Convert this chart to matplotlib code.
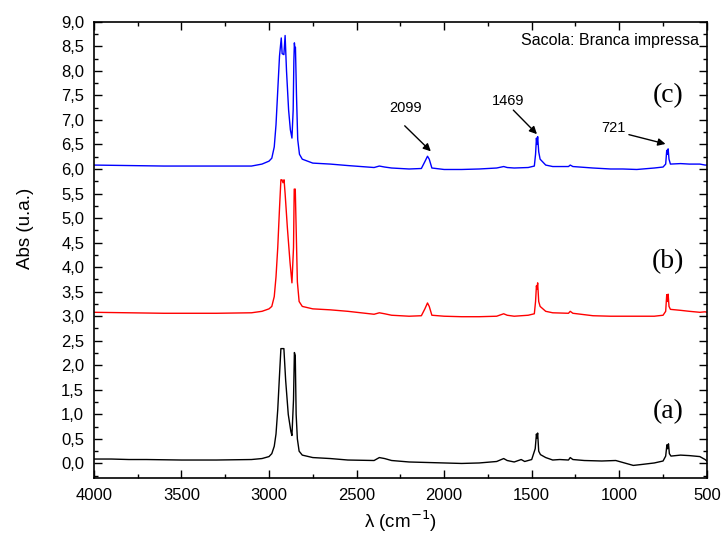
import matplotlib
matplotlib.use('Agg')
import matplotlib.pyplot as plt
from matplotlib.ticker import MultipleLocator, FuncFormatter

# espectro (a) - preto
wn_a = [4000, 3900, 3800, 3700, 3500, 3300, 3100, 3040, 3000, 2984, 2970, 2960, 2950, 2940,
        2932, 2915, 2905, 2890, 2875, 2869, 2860, 2855, 2850, 2845, 2838, 2828, 2810, 2750,
        2650, 2550, 2400, 2370, 2340, 2300, 2200, 2100, 2000, 1900, 1800, 1700, 1660, 1640,
        1600, 1560, 1540, 1500, 1480, 1473, 1470, 1466, 1460, 1450, 1420, 1380, 1340, 1290,
        1280, 1265, 1200, 1100, 1020, 960, 920, 870, 800, 750, 735, 728, 724, 719, 714, 705,
        650, 600, 540, 510, 500]
abs_a = [0.09, 0.09, 0.08, 0.08, 0.07, 0.07, 0.08, 0.10, 0.14, 0.20, 0.35, 0.60, 1.10, 1.80,
         2.34, 2.34, 1.70, 1.00, 0.65, 0.57, 1.30, 2.26, 2.20, 1.00, 0.50, 0.25, 0.17, 0.12,
         0.10, 0.07, 0.06, 0.12, 0.10, 0.06, 0.03, 0.02, 0.01, 0.00, 0.01, 0.04, 0.10, 0.06,
         0.03, 0.08, 0.04, 0.08, 0.30, 0.60, 0.52, 0.62, 0.25, 0.18, 0.12, 0.07, 0.08, 0.07,
         0.12, 0.08, 0.06, 0.05, 0.06, 0.00, -0.04, -0.02, 0.01, 0.05, 0.15, 0.38, 0.30, 0.40,
         0.20, 0.15, 0.17, 0.16, 0.14, 0.08, 0.05]

# espectro (b) - vermelho
wn_b = [4000, 3800, 3600, 3300, 3100, 3040, 3000, 2984, 2970, 2960, 2950, 2940, 2932, 2926,
        2920, 2914, 2908, 2895, 2880, 2869, 2860, 2856, 2850, 2845, 2838, 2828, 2810, 2750,
        2650, 2550, 2400, 2370, 2340, 2300, 2200, 2130, 2110, 2095, 2085, 2070, 2000, 1900,
        1800, 1700, 1660, 1640, 1600, 1520, 1485, 1478, 1473, 1470, 1466, 1460, 1452, 1420,
        1380, 1290, 1280, 1265, 1150, 1050, 980, 900, 800, 750, 735, 729, 725, 721, 716, 708,
        650, 600, 540, 510, 500]
abs_b = [3.08, 3.07, 3.06, 3.06, 3.07, 3.10, 3.15, 3.20, 3.40, 3.80, 4.40, 5.20, 5.78, 5.78,
         5.72, 5.78, 5.50, 4.80, 4.10, 3.68, 4.40, 5.59, 5.59, 4.80, 3.70, 3.30, 3.20, 3.15,
         3.13, 3.10, 3.04, 3.07, 3.05, 3.02, 3.00, 3.01, 3.15, 3.27, 3.20, 3.02, 3.00, 2.99,
         2.99, 3.00, 3.05, 3.02, 3.00, 3.02, 3.05, 3.30, 3.62, 3.55, 3.68, 3.30, 3.20, 3.10,
         3.07, 3.06, 3.10, 3.06, 3.01, 3.00, 3.00, 3.00, 3.00, 3.02, 3.10, 3.44, 3.30, 3.45,
         3.20, 3.14, 3.12, 3.10, 3.08, 3.09, 3.08]

# espectro (c) - azul
wn_c = [4000, 3800, 3600, 3300, 3100, 3040, 3000, 2984, 2970, 2960, 2950, 2940, 2930, 2925,
        2915, 2908, 2900, 2888, 2878, 2869, 2862, 2858, 2855, 2852, 2849, 2843, 2836, 2826,
        2810, 2750, 2650, 2550, 2400, 2370, 2340, 2300, 2200, 2130, 2110, 2095, 2085, 2070,
        2000, 1900, 1800, 1700, 1660, 1640, 1600, 1520, 1485, 1478, 1473, 1470, 1466, 1460,
        1452, 1420, 1380, 1290, 1280, 1265, 1150, 1050, 980, 900, 800, 750, 735, 729, 725,
        721, 716, 708, 650, 600, 540, 510, 500]
abs_c = [6.08, 6.07, 6.06, 6.06, 6.06, 6.10, 6.16, 6.22, 6.45, 6.90, 7.60, 8.30, 8.67, 8.35,
         8.33, 8.72, 8.00, 7.20, 6.80, 6.63, 7.20, 8.20, 8.57, 8.45, 8.48, 7.50, 6.60, 6.30,
         6.20, 6.12, 6.10, 6.07, 6.03, 6.06, 6.04, 6.02, 6.00, 6.01, 6.15, 6.26, 6.20, 6.02,
         5.99, 5.99, 6.00, 6.02, 6.05, 6.03, 6.02, 6.03, 6.06, 6.30, 6.63, 6.50, 6.66, 6.35,
         6.20, 6.08, 6.05, 6.05, 6.08, 6.05, 6.02, 6.00, 6.00, 5.99, 6.02, 6.04, 6.10, 6.38,
         6.30, 6.41, 6.20, 6.10, 6.11, 6.10, 6.10, 6.08, 6.08]

# anotacoes: texto, posicao do texto, inicio e ponta da seta
ann_labels = ['2099', '1469', '721']
ann_text = [(2218, 7.25), (1636, 7.39), (1036, 6.84)]
ann_tail = [(2225, 6.88), (1605, 7.20), (945, 6.70)]
ann_tip = [(2076, 6.36), (1470, 6.71), (736, 6.51)]

plt.rcParams['font.family'] = ['Liberation Sans', 'DejaVu Sans']

fig = plt.figure(figsize=(7.22, 5.44), dpi=100)
ax = fig.add_axes([0.130, 0.121, 0.849, 0.839])

ax.plot(wn_a, abs_a, color='black', lw=1.0)
ax.plot(wn_b, abs_b, color='#ff0000', lw=1.0)
ax.plot(wn_c, abs_c, color='#0000ff', lw=1.0)

ax.set_xlim(4000, 500)
ax.set_ylim(-0.3, 9.0)
ax.xaxis.set_major_locator(MultipleLocator(500))
ax.xaxis.set_minor_locator(MultipleLocator(250))
ax.yaxis.set_major_locator(MultipleLocator(0.5))
ax.yaxis.set_minor_locator(MultipleLocator(0.25))
ax.yaxis.set_major_formatter(FuncFormatter(lambda v, p: f'{v:.1f}'.replace('.', ',')))
ax.tick_params(which='both', direction='in', top=True, right=True, labelsize=12, pad=7)
ax.tick_params(which='major', length=6, width=1)
ax.tick_params(which='minor', length=3, width=1)
for s in ax.spines.values():
    s.set_linewidth(1.2)

ax.set_xlabel('λ (cm$^{-1}$)', fontsize=13.5)
ax.set_ylabel('Abs (u.a.)', fontsize=13.5)
ax.yaxis.set_label_coords(-0.098, 0.548)

for lab, xyt, tail, tip in zip(ann_labels, ann_text, ann_tail, ann_tip):
    ax.text(xyt[0], xyt[1], lab, fontsize=10.5, ha='center', va='center')
    ax.annotate('', xy=tip, xytext=tail,
                arrowprops=dict(arrowstyle='-|>', color='black', lw=1, shrinkA=0, shrinkB=0,
                                mutation_scale=11))

ax.text(720, 7.5, '(c)', family='Liberation Serif', fontsize=20, ha='center', va='center')
ax.text(720, 4.11, '(b)', family='Liberation Serif', fontsize=20, ha='center', va='center')
ax.text(720, 1.06, '(a)', family='Liberation Serif', fontsize=20, ha='center', va='center')
ax.text(0.987, 0.975, 'Sacola: Branca impressa', transform=ax.transAxes, fontsize=11.5,
        ha='right', va='top')

plt.savefig('out.png', dpi=100)
